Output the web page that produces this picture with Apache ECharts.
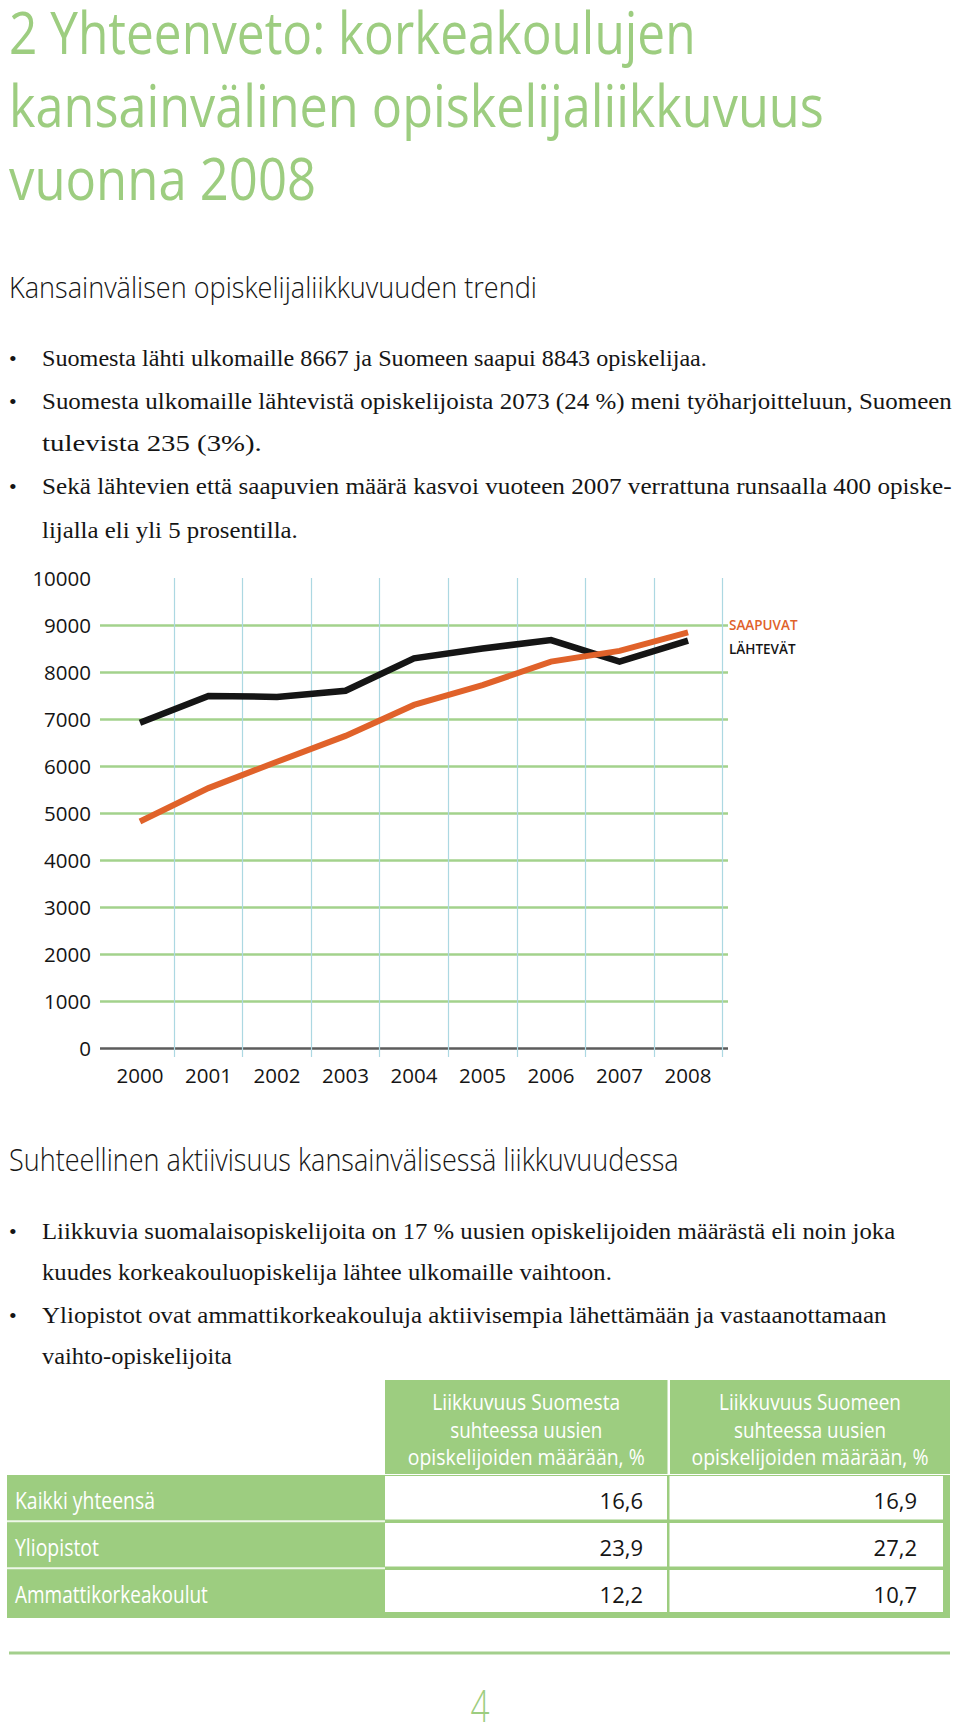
<!DOCTYPE html>
<html>
<head>
<meta charset="utf-8">
<script src="https://cdn.jsdelivr.net/npm/echarts@6/dist/echarts.min.js"></script>
<style>
html,body{margin:0;padding:0;background:#fff;}
#c{width:960px;height:1727px;}
</style>
</head>
<body>
<div id="c"></div>
<script>
// ---------------- DATA ----------------
const years = ['2000','2001','2002','2003','2004','2005','2006','2007','2008'];
const saapuvat = [4820, 5530, 6090, 6640, 7300, 7720, 8220, 8450, 8843];
const lahtevat = [6920, 7490, 7470, 7600, 8290, 8500, 8680, 8220, 8667];
const seriesNames = ['SAAPUVAT', 'LÄHTEVÄT'];

const titleLines = ['2 Yhteenveto: korkeakoulujen', 'kansainvälinen opiskelijaliikkuvuus', 'vuonna 2008'];
const heading1 = 'Kansainvälisen opiskelijaliikkuvuuden trendi';
const heading2 = 'Suhteellinen aktiivisuus kansainvälisessä liikkuvuudessa';
const block1 = [
  'Suomesta lähti ulkomaille 8667 ja Suomeen saapui 8843 opiskelijaa.',
  'Suomesta ulkomaille lähtevistä opiskelijoista 2073 (24 %) meni työharjoitteluun, Suomeen',
  'tulevista 235 (3%).',
  'Sekä lähtevien että saapuvien määrä kasvoi vuoteen 2007 verrattuna runsaalla 400 opiske-',
  'lijalla eli yli 5 prosentilla.'
];
const block2 = [
  'Liikkuvia suomalaisopiskelijoita on 17 % uusien opiskelijoiden määrästä eli noin joka',
  'kuudes korkeakouluopiskelija lähtee ulkomaille vaihtoon.',
  'Yliopistot ovat ammattikorkeakouluja aktiivisempia lähettämään ja vastaanottamaan',
  'vaihto-opiskelijoita'
];
const rowLabels = ['Kaikki yhteensä', 'Yliopistot', 'Ammattikorkeakoulut'];
const colHeaders = [
  ['Liikkuvuus Suomesta', 'suhteessa uusien', 'opiskelijoiden määrään, %'],
  ['Liikkuvuus Suomeen', 'suhteessa uusien', 'opiskelijoiden määrään, %']
];
const fromFinland = [16.6, 23.9, 12.2];
const toFinland = [16.9, 27.2, 10.7];
const pageNumber = '4';

// ---------------- LAYOUT / STYLE ----------------
const GREEN = '#9dcd80';
const GRID_GREEN = '#a3d28c';
const BLUE = '#acd8e2';
const ORANGE = '#e0622a';
const INK = '#151515';
const SANS = "'Open Sans', sans-serif";
const SERIF = "'Liberation Serif', serif";

const mctx = document.createElement('canvas').getContext('2d');
function fitScale(str, font, w) {
  mctx.font = font;
  const m = mctx.measureText(str).width;
  return m > 0 ? w / m : 1;
}
// baseline -> centre of em box
function textEl(str, x, baseline, size, weight, family, fill, width, align) {
  const font = weight + ' ' + size + 'px ' + family;
  const a = align || 'left';
  return {
    type: 'text', x: x, y: baseline - 0.3 * size,
    scaleX: width ? fitScale(str, font, width) : 1,
    silent: true, z: 10,
    style: { text: str, font: font, fill: fill, align: a, verticalAlign: 'middle',
             textAlign: a, textVerticalAlign: 'middle' }
  };
}

const els = [];
// Title
const titleBase = [49, 122, 195];
const titleW = [687, 815, 307];
titleLines.forEach((t, i) => els.push(textEl(t, 9, titleBase[i], 58, 'normal', SANS, GREEN, titleW[i])));
// Headings
els.push(textEl(heading1, 9, 295, 30, 300, SANS, INK, 528));
els.push(textEl(heading2, 9, 1169, 31, 300, SANS, INK, 670));
// Bullet blocks
const b1Base = [365, 408, 450, 493, 537];
const b1W = [665, 910, 220, 910, 256];
const b1Bul = [true, true, false, true, false];
block1.forEach((t, i) => {
  els.push(textEl(t, 42, b1Base[i], 23, 'normal', SERIF, INK, b1W[i]));
  if (b1Bul[i]) els.push(textEl('•', 9, b1Base[i], 22, 'normal', SERIF, INK));
});
const b2Base = [1238, 1279, 1322, 1363];
const b2W = [854, 570, 845, 190];
const b2Bul = [true, false, true, false];
block2.forEach((t, i) => {
  els.push(textEl(t, 42, b2Base[i], 23, 'normal', SERIF, INK, b2W[i]));
  if (b2Bul[i]) els.push(textEl('•', 9, b2Base[i], 22, 'normal', SERIF, INK));
});

// Table
const hdrCells = [[385, 667.5], [670, 950]];
const hdrTop = 1380, hdrBot = 1474;
const bodyTop = 1475, bodyBot = 1618, bodyL = 7, bodyR = 950, labelR = 385;
const valCells = [[385, 667], [669.5, 943]];
const rowTop0 = 1476, rowPitch = 47, cellH = 43.5;
hdrCells.forEach((c, ci) => {
  els.push({ type: 'rect', silent: true, z: 1, shape: { x: c[0], y: hdrTop, width: c[1] - c[0], height: hdrBot - hdrTop }, style: { fill: GREEN } });
  const hb = [1408, 1436, 1463];
  const hw = ci === 0 ? [188, 152, 237] : [182, 152, 237];
  colHeaders[ci].forEach((t, li) => els.push(textEl(t, (c[0] + c[1]) / 2, hb[li], 21, 'normal', SANS, '#ffffff', hw[li], 'center')));
});
els.push({ type: 'rect', silent: true, z: 1, shape: { x: bodyL, y: bodyTop, width: bodyR - bodyL, height: bodyBot - bodyTop }, style: { fill: GREEN } });
const labW = [140, 84, 193];
const fmt = v => v.toFixed(1).replace('.', ',');
rowLabels.forEach((lab, r) => {
  const top = rowTop0 + r * rowPitch;
  const h = r === rowLabels.length - 1 ? 42 : cellH;
  valCells.forEach(c => els.push({ type: 'rect', silent: true, z: 2, shape: { x: c[0], y: top, width: c[1] - c[0], height: h }, style: { fill: '#ffffff' } }));
  if (r > 0) {
    els.push({ type: 'line', silent: true, z: 2, shape: { x1: bodyL, y1: top - 1.8, x2: labelR, y2: top - 1.8 }, style: { stroke: '#eef7e8', lineWidth: 2 } });
  }
  const base = 1507 + r * 47;
  els.push(textEl(lab, 15, base, 23, 'normal', SANS, '#ffffff', labW[r]));
  els.push(textEl(fmt(fromFinland[r]), 643, base, 22, 'normal', SANS, INK, null, 'right'));
  els.push(textEl(fmt(toFinland[r]), 917, base, 22, 'normal', SANS, INK, null, 'right'));
});

// Footer
els.push({ type: 'line', silent: true, z: 1, shape: { x1: 9, y1: 1653, x2: 950, y2: 1653 }, style: { stroke: '#a3cf8c', lineWidth: 3 } });
els.push(textEl(pageNumber, 480, 1718, 44, 300, SANS, GREEN, 19, 'center'));

// ---------------- CHART ----------------
const skipFirst = (i) => i !== 0;
const splitColors = [];
for (let v = 0; v <= 10000; v += 1000) splitColors.push(v === 0 ? '#5c5c5c' : (v === 10000 ? 'rgba(0,0,0,0)' : GRID_GREEN));

const chart = echarts.init(document.getElementById('c'), null, { renderer: 'svg', width: 960, height: 1727 });
chart.setOption({
  animation: false,
  backgroundColor: '#ffffff',
  grid: [
    { left: 100, right: 232, top: 578, bottom: 679 },
    { left: 105.7, right: 237.7, top: 578, bottom: 679 }
  ],
  xAxis: [
    { gridIndex: 0, type: 'category', data: years, show: false },
    {
      gridIndex: 1, type: 'category', data: years, boundaryGap: true,
      axisLine: { show: false },
      axisTick: { show: true, length: 9, interval: skipFirst, lineStyle: { color: BLUE, width: 1.2 } },
      splitLine: { show: true, interval: skipFirst, lineStyle: { color: BLUE, width: 1.2 } },
      axisLabel: { interval: 0, margin: 16, color: INK, fontSize: 20.5, fontFamily: SANS }
    }
  ],
  yAxis: [
    {
      gridIndex: 0, type: 'value', min: 0, max: 10000, interval: 1000,
      axisLine: { show: false }, axisTick: { show: false },
      axisLabel: { margin: 9, color: INK, fontSize: 20.5, fontFamily: SANS, formatter: v => String(v) },
      splitLine: { show: true, lineStyle: { color: splitColors, width: 2.5 } }
    },
    { gridIndex: 1, type: 'value', min: 0, max: 10000, interval: 1000, show: false }
  ],
  legend: {
    data: [
      { name: seriesNames[0], textStyle: { color: ORANGE } },
      { name: seriesNames[1], textStyle: { color: INK } }
    ],
    orient: 'vertical', left: 719, top: 613, icon: 'none',
    itemWidth: 0, itemHeight: 14, itemGap: 9.6, selectedMode: false,
    textStyle: { fontSize: 13.5, fontWeight: 600, fontFamily: SANS, lineHeight: 14 }
  },
  series: [
    {
      name: seriesNames[1], type: 'line', xAxisIndex: 1, yAxisIndex: 1, data: lahtevat,
      symbol: 'none', z: 3, itemStyle: { color: INK },
      lineStyle: { color: INK, width: 6.5, join: 'miter', cap: 'butt' }
    },
    {
      name: seriesNames[0], type: 'line', xAxisIndex: 1, yAxisIndex: 1, data: saapuvat,
      symbol: 'none', z: 4, itemStyle: { color: ORANGE },
      lineStyle: { color: ORANGE, width: 6, join: 'miter', cap: 'butt' }
    }
  ],
  graphic: { elements: els }
});
</script>
</body>
</html>
